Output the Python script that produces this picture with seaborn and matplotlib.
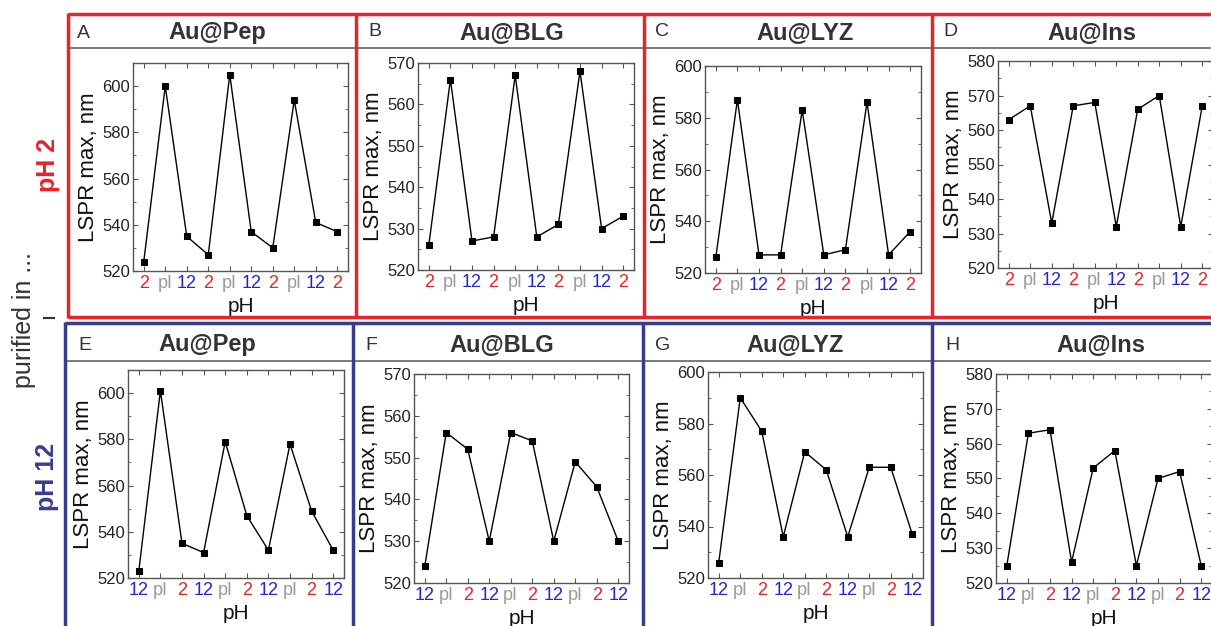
import numpy as np
import pandas as pd
import seaborn as sns
import matplotlib.pyplot as plt
from matplotlib.lines import Line2D
from matplotlib.ticker import MultipleLocator

sns.set_style("ticks")
plt.rcParams['font.family'] = ['Liberation Sans', 'DejaVu Sans']

W, H = 1211, 626

# x sequences of the pH cycling
top_ph = ['2', 'pI', '12', '2', 'pI', '12', '2', 'pI', '12', '2']
bottom_ph = ['12', 'pI', '2', '12', 'pI', '2', '12', 'pI', '2', '12']

# LSPR maximum, nm (purified in pH 2)
pep_2 = [524, 600, 535, 527, 605, 537, 530, 594, 541, 537]
blg_2 = [526, 566, 527, 528, 567, 528, 531, 568, 530, 533]
lyz_2 = [526, 587, 527, 527, 583, 527, 529, 586, 527, 536]
ins_2 = [563, 567, 533, 567, 568, 532, 566, 570, 532, 567]

# LSPR maximum, nm (purified in pH 12)
pep_12 = [523, 601, 535, 531, 579, 547, 532, 578, 549, 532]
blg_12 = [524, 556, 552, 530, 556, 554, 530, 549, 543, 530]
lyz_12 = [526, 590, 577, 536, 569, 562, 536, 563, 563, 537]
ins_12 = [525, 563, 564, 526, 553, 558, 525, 550, 552, 525]

letters = ['A', 'B', 'C', 'D', 'E', 'F', 'G', 'H']
titles = ['Au@Pep', 'Au@BLG', 'Au@LYZ', 'Au@Ins'] * 2

RED = '#e8232b'
BLUE = '#3b3b8e'
tick_colors = {'2': '#e3262b', 'pI': '#9a9a9a', '12': '#2626cc'}


def px(x, y):
    return x / W, 1 - y / H


def line(x0, y0, x1, y1, color, lw):
    a, b = px(x0, y0)
    c, d = px(x1, y1)
    fig.add_artist(Line2D([a, c], [b, d], color=color, lw=lw,
                          transform=fig.transFigure, solid_capstyle='butt'))


def add_panel(box, values, phs, ylim, major, minor):
    l, t, r, b = box
    ax = fig.add_axes([l / W, 1 - b / H, (r - l) / W, (b - t) / H])
    df = pd.DataFrame({'pos': np.arange(len(values)), 'lspr': values})
    sns.lineplot(data=df, x='pos', y='lspr', ax=ax, color='black', lw=1,
                 marker='s', markersize=5, markeredgecolor='black', sort=False)
    ax.set_xlim(-0.5, len(values) - 0.5)
    ax.set_ylim(*ylim)
    ax.yaxis.set_major_locator(MultipleLocator(major))
    ax.yaxis.set_minor_locator(MultipleLocator(minor))
    ax.set_xticks(np.arange(len(values)))
    ax.set_xticklabels(phs)
    for lab, p in zip(ax.get_xticklabels(), phs):
        lab.set_color(tick_colors[p])
    ax.tick_params(axis='both', which='both', direction='in',
                   top=True, right=True, color='#555555')
    ax.tick_params(axis='x', which='major', length=3.5, labelsize=13, pad=3)
    ax.tick_params(axis='y', which='major', length=3.5, labelsize=12,
                   pad=2, labelcolor='#222222')
    ax.tick_params(axis='y', which='minor', length=2)
    for s in ax.spines.values():
        s.set_color('#555555')
        s.set_linewidth(1)
    ax.set_ylabel('LSPR max, nm', fontsize=16, color='#111111')
    ax.set_xlabel('pH', fontsize=15, color='#111111')
    ax.yaxis.set_label_coords(-34 / (r - l), 0.5)
    ax.xaxis.set_label_coords(0.5, -26 / (b - t))
    return ax


fig = plt.figure(figsize=(W / 100, H / 100), dpi=100)

boxes = [(133, 63, 348, 271), (418, 63, 634, 270), (705, 66, 921, 273),
         (998, 61, 1213, 268),
         (128, 370, 344, 578), (414, 374, 629, 583), (708, 372, 923, 578),
         (996, 374, 1212, 583)]
series = [pep_2, blg_2, lyz_2, ins_2, pep_12, blg_12, lyz_12, ins_12]
ylims = [(520, 610), (520, 570), (520, 600), (520, 580)] * 2
majors = [20, 10, 20, 10] * 2
minors = [10, 5, 10, 5] * 2

for i in range(8):
    phs = top_ph if i < 4 else bottom_ph
    add_panel(boxes[i], series[i], phs, ylims[i], majors[i], minors[i])

# header texts
letter_pos = [(77, 33), (368, 32), (655, 32), (943, 32),
              (78, 345), (365, 345), (655, 345), (945, 345)]
title_pos = [(217, 33), (512, 33), (805, 33), (1092, 33),
             (207, 345), (502, 345), (795, 345), (1101, 345)]
for i in range(8):
    fig.text(*px(*letter_pos[i]), letters[i], fontsize=14, color='#333333',
             ha='left', va='center')
    fig.text(*px(*title_pos[i]), titles[i], fontsize=17, fontweight='bold',
             color='#333333', ha='center', va='center')

# gray header lines
line(68, 48, 1211, 48, '#707070', 1.3)
line(65, 361, 1211, 361, '#707070', 1.3)

# red frame (top row)
line(68, 14, 1211, 14, RED, 2.5)
line(68, 317, 1211, 317, RED, 2.5)
line(68, 13, 68, 318, RED, 2.5)
for x in [356, 644, 932]:
    line(x, 13, x, 318, RED, 2.5)

# blue frame (bottom row)
line(65, 323, 1211, 323, BLUE, 2.5)
line(65, 322, 65, 626, BLUE, 2.5)
for x in [353, 643, 932]:
    line(x, 322, x, 626, BLUE, 2.5)

# left labels
fig.text(*px(24, 320), 'purified in ...', rotation=90, fontsize=18,
         color='#333333', ha='center', va='center')
line(43, 318, 55, 318, '#333333', 1.5)
fig.text(*px(48, 165), 'pH 2', rotation=90, fontsize=18, fontweight='bold',
         color=RED, ha='center', va='center')
fig.text(*px(47, 477), 'pH 12', rotation=90, fontsize=18, fontweight='bold',
         color=BLUE, ha='center', va='center')

fig.savefig('out.png', dpi=100)
